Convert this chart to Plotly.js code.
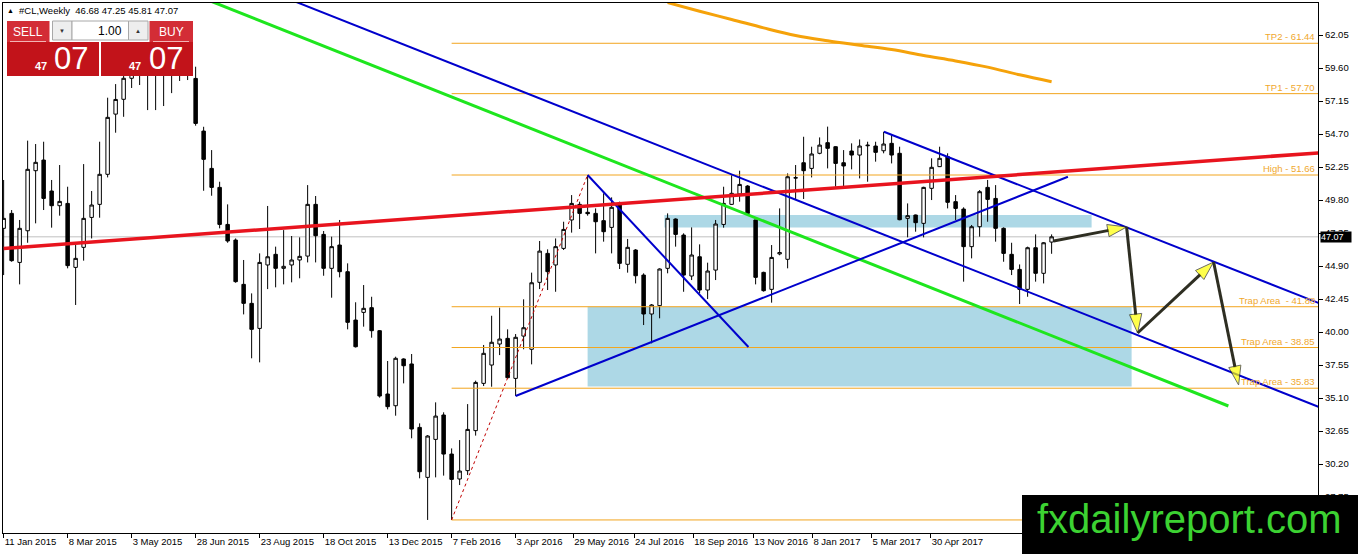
<!DOCTYPE html>
<html><head><meta charset="utf-8">
<script src="https://cdn.plot.ly/plotly-3.0.1.min.js"></script>
<style>html,body{margin:0;padding:0;background:#fff;overflow:hidden}#chart{width:1358px;height:554px}</style>
</head><body><div id="chart"></div>
<script>
// ---------- data ----------
const symbol = '#CL';
const timeframe = 'Weekly';
const open  = [47.70,48.81,45.17,47.52,51.98,52.77,50.47,49.38,49.55,44.80,46.29,48.51,49.48,51.71,56.18,57.28,58.84,59.60,59.40,59.80,59.20,60.10,59.60,59.90,58.83,54.92,52.15,50.74,47.99,46.83,43.54,42.13,40.27,44.98,45.77,44.73,44.98,45.35,45.64,49.48,47.25,44.73,46.46,44.48,40.89,41.46,41.81,40.10,35.40,34.53,38.00,37.63,32.92,29.21,32.03,33.84,30.94,29.09,29.71,32.68,36.19,37.55,39.11,39.53,36.56,39.70,38.72,43.69,45.84,44.98,46.21,48.32,49.48,48.89,48.81,48.27,47.77,49.50,45.03,46.09,44.23,41.34,41.96,44.73,48.39,47.20,44.16,45.59,43.12,44.60,47.99,49.48,50.25,50.84,48.32,44.43,43.17,45.80,45.40,51.43,52.57,52.15,53.27,54.06,53.76,52.57,53.44,53.14,53.83,53.81,53.46,54.01,53.27,48.44,48.69,48.07,50.67,52.28,53.02,49.68,49.13,46.34,47.82,50.74,49.92,47.70,45.77,44.65,43.17,46.26,44.36,46.68];
const high  = [51.29,49.06,48.32,54.21,53.96,54.13,51.29,52.40,50.79,46.46,52.47,50.47,54.13,57.40,58.41,59.90,60.90,60.50,61.20,61.00,61.40,61.00,60.80,60.60,59.70,55.24,53.51,51.16,49.48,46.95,45.35,42.87,45.84,49.36,46.34,47.57,47.13,47.03,50.91,50.10,47.50,47.08,48.32,45.10,42.21,43.49,42.62,40.15,37.85,38.17,38.05,38.37,33.22,32.35,34.78,34.04,31.36,31.98,34.65,36.39,39.04,41.21,41.81,40.20,39.85,42.43,44.41,46.76,46.14,46.95,48.19,50.17,49.68,51.66,49.18,50.30,50.00,49.68,46.91,46.16,44.36,42.08,44.73,48.81,48.44,47.33,47.77,46.51,45.15,48.32,50.79,51.66,51.98,50.91,48.32,44.48,46.46,49.18,51.78,52.40,54.50,53.76,54.45,55.25,53.80,53.51,54.01,54.30,54.13,54.13,54.87,54.63,53.76,49.55,48.72,50.79,52.90,53.76,53.27,50.17,49.26,47.95,50.54,51.29,50.91,47.77,46.63,45.02,46.34,47.25,46.68,47.25];
const low   = [44.23,45.22,43.54,46.63,48.07,49.06,47.75,48.64,44.73,42.01,45.30,46.95,48.49,51.48,54.80,55.98,58.12,58.34,56.48,56.48,56.78,57.74,58.64,58.71,55.32,50.49,50.12,47.70,46.63,43.66,41.31,38.05,37.75,43.19,43.32,43.54,43.69,43.99,45.17,45.17,44.18,42.55,44.06,40.20,38.85,40.40,39.58,35.13,34.26,33.79,36.19,32.11,29.14,26.05,29.21,29.34,26.05,28.64,29.39,32.31,35.99,35.94,38.29,36.56,35.25,38.72,37.60,43.19,43.12,42.99,46.09,47.38,47.65,48.64,45.84,46.71,45.84,44.68,44.41,43.61,40.52,39.16,41.02,44.36,46.34,42.99,43.86,42.87,42.45,43.86,47.75,49.43,49.68,48.76,43.54,43.00,42.18,45.70,44.73,49.88,49.88,51.48,53.20,52.15,50.79,50.84,52.08,51.41,51.16,52.65,53.27,52.52,48.30,47.03,47.45,47.03,49.80,52.25,49.18,48.32,43.74,45.47,47.08,48.19,46.71,45.22,44.23,42.08,42.62,43.74,43.61,45.81];
const close = [48.44,45.30,47.70,52.08,52.60,49.92,49.38,49.70,44.93,45.47,48.44,49.43,51.71,55.94,57.27,58.84,59.60,59.40,59.80,59.20,60.10,59.60,59.90,59.20,55.49,52.82,50.74,47.99,46.76,43.74,42.13,40.20,45.17,45.59,44.73,44.88,45.35,45.62,49.48,47.15,44.73,46.34,44.48,40.72,38.91,41.76,40.10,35.25,34.46,38.05,37.50,32.80,29.63,32.28,33.76,30.94,29.06,29.68,32.77,36.26,38.42,39.24,39.48,36.61,39.61,40.32,43.66,46.01,44.48,46.34,47.62,49.55,48.81,48.79,48.19,47.45,49.26,45.10,46.29,44.18,41.34,42.01,44.68,48.44,47.25,44.23,45.72,43.12,44.53,48.02,49.55,50.30,50.96,48.81,44.06,43.07,45.54,45.90,51.53,51.46,51.98,53.22,53.88,53.64,52.52,52.33,53.14,53.81,53.87,53.34,53.96,53.14,48.34,48.64,48.12,50.74,52.23,52.90,49.63,49.18,46.34,47.82,50.42,49.85,47.70,45.84,44.65,43.17,46.26,44.36,46.63,47.07];

const tickIdx    = [0, 8, 16, 24, 32, 40, 48, 56, 64, 71.2, 78.8, 86.2, 93.7, 101.1, 108.5, 115.9];
const tickLabels = ['11 Jan 2015','8 Mar 2015','3 May 2015','28 Jun 2015','23 Aug 2015','18 Oct 2015','13 Dec 2015','7 Feb 2016','3 Apr 2016','29 May 2016','24 Jul 2016','18 Sep 2016','13 Nov 2016','8 Jan 2017','5 Mar 2017','30 Apr 2017'];
const yTicks = [62.05,59.60,57.15,54.70,52.25,49.80,47.35,44.90,42.45,40.00,37.55,35.10,32.65,30.20,27.75];

// Fibonacci levels (anchored at the low bar)
const fibStartIdx = 56;
const fibValues = [26.05, 35.83, 38.85, 41.88, 51.66, 57.70, 61.44];
const fibLabels = ['', 'Trap Area - 35.83', 'Trap Area - 38.85', 'Trap Area\u00a0\u00a0- 41.88', 'High - 51.66', 'TP1 - 57.70', 'TP2 - 61.44'];

// moving average (read at sample bars)
const maIdx = [83, 87, 91, 95, 99, 103, 107, 111, 115, 119, 123, 127, 131];
const maVal = [64.46, 63.82, 63.21, 62.58, 62.01, 61.62, 61.29, 60.97, 60.53, 60.13, 59.67, 59.10, 58.58];

// trend lines: [bar index], [price]
const greenX = [26, 153.1],      greenY = [64.54, 34.51];
const blueLongX = [36.6, 164.5], blueLongY = [64.50, 34.42];
const blueUpX = [110.04, 164.5], blueUpY = [54.87, 42.13];
const blueRiseX = [64, 133.04],  blueRiseY = [35.25, 51.53];
const blueShortX = [73, 93.1],   blueShortY = [51.66, 38.89];
const redX = [0, 164.5],         redY = [46.21, 53.31];
const fibDotX = [56, 73],        fibDotY = [26.05, 51.66];

// zones
const zoneBigX = [73, 141],      zoneBigY = [35.95, 41.88];
const zoneSmallX = [82.6, 136],  zoneSmallY = [47.77, 48.69];

// projected path arrows
const arrowStartX = [131.25, 140.375, 141.75, 151.25];
const arrowStartY = [46.76, 47.80, 39.93, 45.20];
const arrowEndX   = [140.375, 141.75, 151.25, 154.375];
const arrowEndY   = [47.80, 39.93, 45.20, 36.07];

// ---------- chart ----------
const FONT = "'Liberation Sans', Arial, sans-serif";
const PL = 3, PR = 1318, PT = 3, PB = 533;
const xRange = [-0.08, 164.3];
const px = p => (p - PL) / (PR - PL);
const py = p => (PB - p) / (PB - PT);
const bars = open.map((_, i) => i);
const last = close.length - 1;

const traces = [];
fibValues.forEach(v => traces.push({type:'scatter', mode:'lines', x:[fibStartIdx, xRange[1]], y:[v, v],
  line:{color:'#f2a51e', width:1}, hoverinfo:'skip'}));
traces.push({type:'candlestick', x:bars, open:open, high:high, low:low, close:close,
  increasing:{line:{color:'#000', width:1}, fillcolor:'#ffffff'},
  decreasing:{line:{color:'#000', width:1}, fillcolor:'#000000'},
  whiskerwidth:0, hoverinfo:'skip'});
const lineTrace = (x, y, color, width, dash) => ({type:'scatter', mode:'lines', x:x, y:y,
  line:{color:color, width:width, dash:dash || 'solid'}, hoverinfo:'skip'});
traces.push(lineTrace(fibDotX, fibDotY, '#c00000', 1, 'dot'));
traces.push(lineTrace(greenX, greenY, '#1ee61e', 3));
traces.push(lineTrace(blueLongX, blueLongY, '#0000cc', 2));
traces.push(lineTrace(blueUpX, blueUpY, '#0000cc', 2));
traces.push(lineTrace(blueRiseX, blueRiseY, '#0000cc', 2));
traces.push(lineTrace(blueShortX, blueShortY, '#0000cc', 2));
traces.push(lineTrace(redX, redY, '#e8141e', 3.5));
traces.push({type:'scatter', mode:'lines', x:maIdx, y:maVal, line:{color:'#f5a20a', width:3, shape:'spline'}, hoverinfo:'skip'});
arrowStartX.forEach((sx, k) => traces.push({type:'scatter', mode:'lines+markers',
  x:[sx, arrowEndX[k]], y:[arrowStartY[k], arrowEndY[k]],
  line:{color:'#2e2e22', width:3},
  marker:{symbol:['circle','arrow'], size:[0, 20], angleref:'previous', color:'#ffff00', line:{color:'#2e2e22', width:1}},
  hoverinfo:'skip'}));

const shapes = [
  {type:'rect', xref:'x', yref:'y', x0:zoneBigX[0], x1:zoneBigX[1], y0:zoneBigY[0], y1:zoneBigY[1], fillcolor:'#add8e6', line:{width:0}, layer:'below'},
  {type:'rect', xref:'x', yref:'y', x0:zoneSmallX[0], x1:zoneSmallX[1], y0:zoneSmallY[0], y1:zoneSmallY[1], fillcolor:'#add8e6', line:{width:0}, layer:'below'},
  {type:'line', xref:'paper', yref:'y', x0:0, x1:1, y0:close[last], y1:close[last], line:{color:'#c0c0c0', width:1}, layer:'below'},
];
const rectPx = (x0, y0, x1, y1, fill, lineColor) => ({type:'rect', xref:'paper', yref:'paper',
  x0:px(x0), x1:px(x1), y0:py(y0), y1:py(y1), fillcolor:fill,
  line:lineColor ? {color:lineColor, width:1} : {width:0}, layer:'above'});
shapes.push(rectPx(7, 21, 49.5, 42, '#d32d36'));
shapes.push(rectPx(149.5, 21, 193, 42, '#d32d36'));
shapes.push(rectPx(52.5, 21, 72, 40, '#eeeeee', '#a8a8a8'));
shapes.push(rectPx(72, 21, 128.5, 40, '#ffffff', '#a8a8a8'));
shapes.push(rectPx(128.5, 21, 148, 40, '#eeeeee', '#a8a8a8'));
shapes.push(rectPx(7, 42, 99, 76, '#c2131a'));
shapes.push(rectPx(101, 42, 193, 76, '#c2131a'));
shapes.push({type:'line', xref:'paper', yref:'paper', x0:px(10), x1:px(46), y0:py(41.5), y1:py(41.5), line:{color:'#f2b4b4', width:1}, layer:'above'});
shapes.push({type:'line', xref:'paper', yref:'paper', x0:px(153), x1:px(189), y0:py(41.5), y1:py(41.5), line:{color:'#f2b4b4', width:1}, layer:'above'});
shapes.push(rectPx(1022, 495, 1360, 556, '#000000'));

const priceStr = close[last].toFixed(2).split('.');
const ann = (x, y, text, size, color, xanchor, extra) => Object.assign({xref:'paper', yref:'paper', x:px(x), y:py(y),
  text:text, showarrow:false, xanchor:xanchor || 'center', yanchor:'middle',
  font:{family:FONT, size:size, color:color}}, extra || {});
const annotations = [
  ann(10, 11, '▲', 7, '#000', 'center'),
  ann(17, 11, `${symbol},${timeframe}\u00a0\u00a0${open[last].toFixed(2)} ${high[last].toFixed(2)} ${low[last].toFixed(2)} ${close[last].toFixed(2)}`, 9.5, '#000', 'left'),
  ann(28, 31.5, 'SELL', 12, '#fff', 'center'),
  ann(171, 31.5, 'BUY', 12, '#fff', 'center'),
  ann(124, 30.5, '1.00', 12, '#000', 'right'),
  ann(62, 30.5, '▼', 6, '#333', 'center'),
  ann(138, 30.5, '▲', 6, '#333', 'center'),
  ann(48.5, 66, `<b>${priceStr[0]}</b>`, 11, '#fff', 'right'),
  ann(52, 58.5, priceStr[1], 31, '#fff', 'left'),
  ann(143, 66, `<b>${priceStr[0]}</b>`, 11, '#fff', 'right'),
  ann(146.5, 58.5, priceStr[1], 31, '#fff', 'left'),
  ann(1189, 519, 'fxdailyreport.com', 40, '#3cd232', 'center'),
  {xref:'paper', yref:'y', x:1, y:close[last], xanchor:'left', yanchor:'middle', xshift:2, text:close[last].toFixed(2),
   showarrow:false, bgcolor:'#000', width:30, height:10, align:'left', borderpad:0, font:{family:FONT, size:9, color:'#fff'}},
];
fibValues.forEach((v, k) => { if (fibLabels[k]) annotations.push({xref:'paper', yref:'y', x:1, y:v, xanchor:'right', yanchor:'bottom',
  xshift:-1, yshift:-1, text:fibLabels[k], showarrow:false, font:{family:FONT, size:9.5, color:'#f0a82e'}}); });

const layout = {
  width:1358, height:554, margin:{l:PL, r:1358-PR, t:PT, b:554-PB, pad:0},
  paper_bgcolor:'#fff', plot_bgcolor:'#fff', showlegend:false, boxgap:0.38,
  xaxis:{range:xRange, showgrid:false, zeroline:false, showline:true, linecolor:'#000', linewidth:1, mirror:true,
    ticks:'outside', ticklen:4, tickcolor:'#000', tickmode:'array', tickvals:tickIdx, ticktext:tickLabels, tickangle:0,
    ticklabelposition:'outside right', tickfont:{family:FONT, size:9.5, color:'#000'}, rangeslider:{visible:false}, fixedrange:true},
  yaxis:{side:'right', range:[25.08, 64.43], showgrid:false, zeroline:false, showline:true, linecolor:'#000', linewidth:1, mirror:true,
    ticks:'outside', ticklen:4, tickcolor:'#000', tickmode:'array', tickvals:yTicks, tickformat:'.2f',
    tickfont:{family:FONT, size:9.5, color:'#000'}, fixedrange:true},
  shapes:shapes, annotations:annotations,
};
Plotly.newPlot('chart', traces, layout, {staticPlot:true, displayModeBar:false});
</script></body></html>
